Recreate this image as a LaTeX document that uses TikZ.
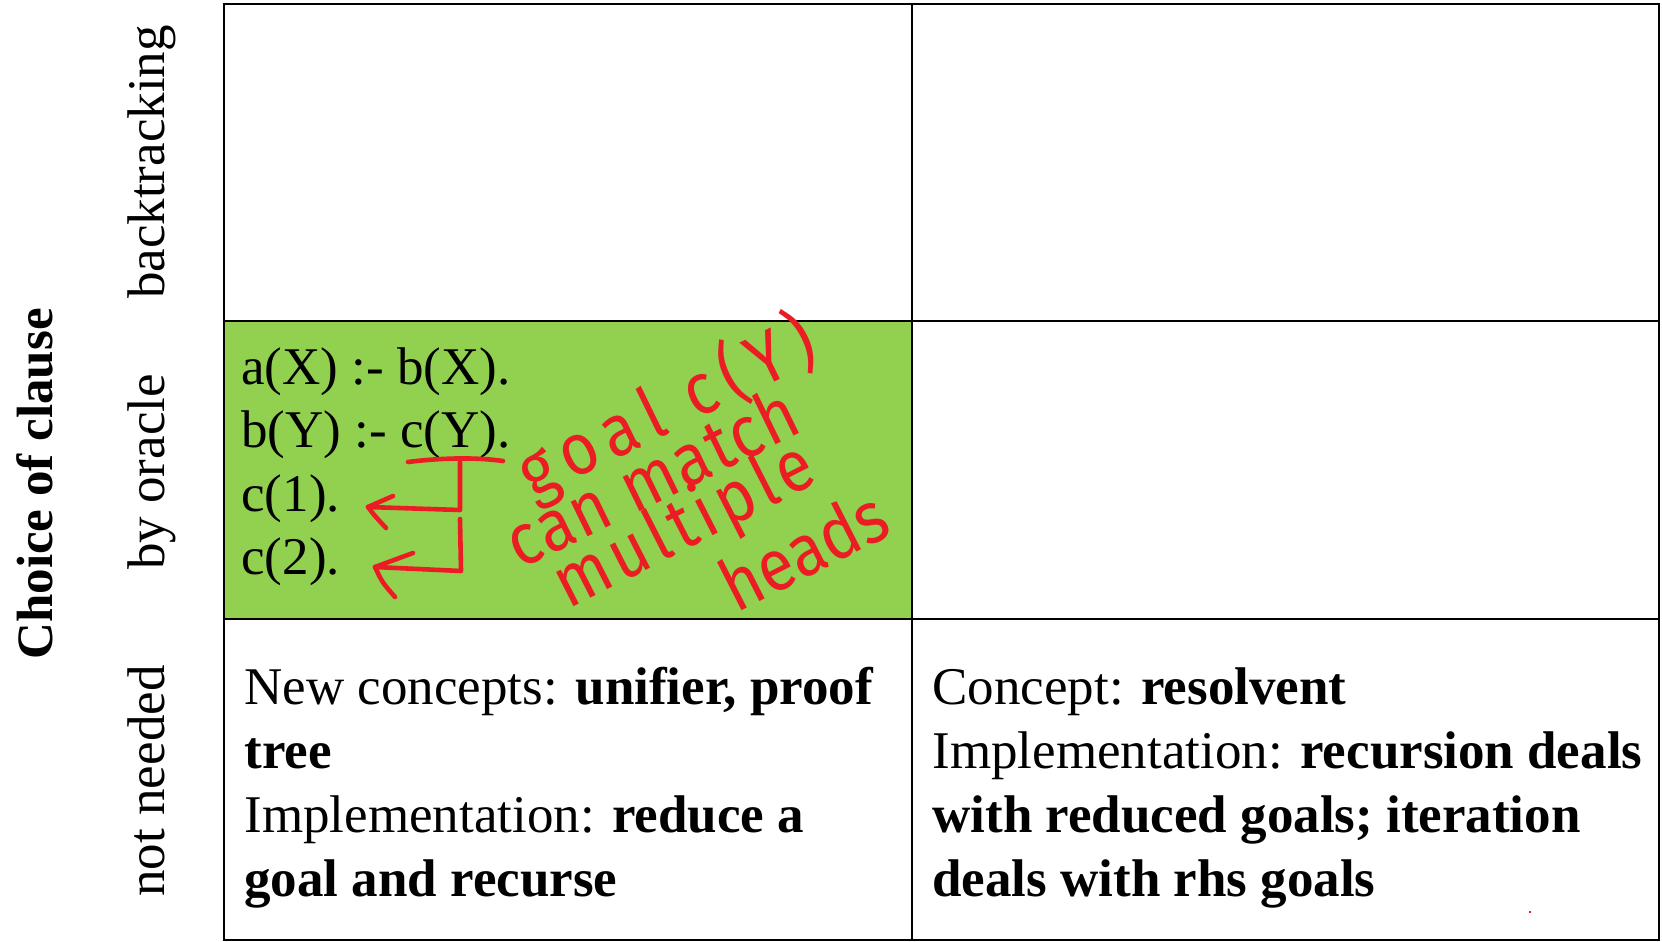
\documentclass[tikz,border=0pt]{standalone}
\usepackage{fontspec}
\setmainfont{Liberation Serif}
\newfontfamily\handfont{Fira Sans}
\definecolor{cellgreen}{RGB}{146,208,80}
\definecolor{inkred}{RGB}{236,28,36}

\begin{document}
\begin{tikzpicture}[x=0.5pt,y=-0.5pt,
  body/.style={anchor=base west, inner sep=0pt, font=\fontsize{26.5}{32}\selectfont},
  rowlabel/.style={rotate=90, anchor=base, inner sep=0pt, font=\fontsize{26.5}{32}\selectfont},
  axislabel/.style={rotate=90, anchor=base, inner sep=0pt, font=\fontsize{25.5}{30}\selectfont\bfseries},
  ink/.style={draw=inkred, line width=2.3pt, line cap=round, line join=round},
  hand/.style={text=inkred, anchor=base west, inner sep=0pt, font=\handfont\fontsize{27}{34}\selectfont},
  gridline/.style={line width=1.25pt}]

\useasboundingbox (0,0) rectangle (1662,942);
\fill[white] (0,0) rectangle (1662,942);

% highlighted cell
\fill[cellgreen] (224,321) rectangle (912,619);

% table frame and rules
\draw[gridline] (224,4) rectangle (1659,940);
\draw[gridline] (912,4) -- (912,940);
\draw[gridline] (224,321) -- (1659,321);
\draw[gridline] (224,619) -- (1659,619);

% row headings
\node[axislabel] (axis) at (53,484) {Choice of clause};
\node[rowlabel] (rbt) at (164,162) {backtracking};
\node[rowlabel] (ror) at (164,472) {by oracle};
\node[rowlabel] (rnn) at (164,781) {not needed};

% program in the oracle cell
\node[body] (p1) at (241,384) {a(X) :- b(X).};
\node[body] (p2) at (241,447) {b(Y) :- c(Y).};
\node[body] (p3) at (241,511) {c(1).};
\node[body] (p4) at (241,574) {c(2).};

% bottom left cell
\node[body] (l1) at (244,704) {New concepts: \textbf{unifier, proof}};
\node[body] (l2) at (244,768) {\textbf{tree}};
\node[body] (l3) at (244,832) {Implementation: \textbf{reduce a}};
\node[body] (l4) at (244,896) {\textbf{goal and recurse}};

% bottom right cell
\node[body] (r1) at (932,704) {Concept: \textbf{resolvent}};
\node[body] (r2) at (932,768) {Implementation: \textbf{recursion deals}};
\node[body] (r3) at (932,832) {\textbf{with reduced goals; iteration}};
\node[body] (r4) at (932,896) {\textbf{deals with rhs goals}};

% red annotation: underline and two arrows to the matching heads
\coordinate (u1) at (408,462);
\coordinate (u2) at (503,461);
\coordinate (s1) at (460,462);
\coordinate (k1) at (460,510);
\coordinate (t1) at (368,507);
\coordinate (s2) at (460,519);
\coordinate (k2) at (461,571);
\coordinate (t2) at (375,567);
\draw[ink] (u1) .. controls (440,458) and (475,457) .. (u2);
\draw[ink] (s1) -- (k1) -- (t1);
\draw[ink] (393,496) -- (t1) .. controls (374,515) .. (386,528);
\draw[ink] (s2) -- (k2) -- (t2);
\draw[ink] (413,553) -- (t2) .. controls (382,582) .. (395,597);

% red annotation: handwritten remark
\node[hand, rotate=26, yscale=1.35, xscale=1.2] (h1) at (532,500)
  {\addfontfeature{LetterSpace=16}goal c(Y)};
\node[hand, rotate=26, yscale=1.35, xscale=1.2] (h2) at (520,570)
  {\addfontfeature{LetterSpace=3}can match};
\node[hand, rotate=27, yscale=1.35, xscale=1.2] (h3) at (568,610)
  {\addfontfeature{LetterSpace=8}multiple};
\node[hand, rotate=27, yscale=1.35, xscale=1.2] (h4) at (736,614) {heads};

% stray ink dot
\fill[inkred] (1529,911) rectangle (1531,913);
\end{tikzpicture}
\end{document}
